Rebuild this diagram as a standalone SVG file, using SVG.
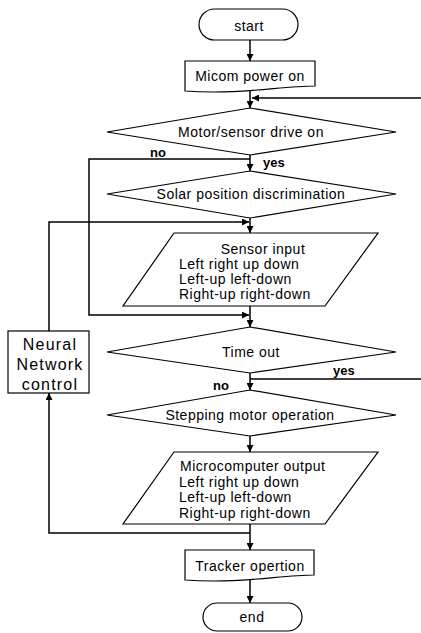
<svg xmlns="http://www.w3.org/2000/svg" width="421" height="633" viewBox="0 0 421 633">
<style>
.s{fill:#fff;stroke:#000;stroke-width:1.2}
.t{font-family:"Liberation Sans",Arial,sans-serif;font-size:14px;letter-spacing:0.5px;fill:#000}
.c{text-anchor:middle}
.lb{font-family:"Liberation Sans",Arial,sans-serif;font-size:13px;font-weight:bold;fill:#000}
.nn{font-family:"Liberation Sans",Arial,sans-serif;font-size:16px;letter-spacing:1.2px;fill:#000;text-anchor:middle}
.ln{fill:none;stroke:#000;stroke-width:1.5}
</style>
<defs>
<marker id="a" viewBox="0 0 10 10" refX="10" refY="5" markerWidth="7" markerHeight="7" markerUnits="userSpaceOnUse" orient="auto">
<path d="M0,0 L10,5 L0,10 Z" fill="#000"/>
</marker>
</defs>
<g id="connectors">
<path class="ln" d="M250,40 V61" marker-end="url(#a)"/>
<path class="ln" d="M250,91 V108" marker-end="url(#a)"/>
<path class="ln" d="M421,98 H252" marker-end="url(#a)"/>
<path class="ln" d="M250,155 V171" marker-end="url(#a)"/>
<path class="ln" d="M250,159 H89 V315 H249" marker-end="url(#a)"/>
<path class="ln" d="M250,218 V233" marker-end="url(#a)"/>
<path class="ln" d="M49,331 V222 H249" marker-end="url(#a)"/>
<path class="ln" d="M250,306 V327" marker-end="url(#a)"/>
<path class="ln" d="M250,373 V390" marker-end="url(#a)"/>
<path class="ln" d="M250,379 H421"/>
<path class="ln" d="M250,436 V452" marker-end="url(#a)"/>
<path class="ln" d="M250,524 V550" marker-end="url(#a)"/>
<path class="ln" d="M250,533 H49 V393" marker-end="url(#a)"/>
<path class="ln" d="M250,580 V603" marker-end="url(#a)"/>
<text class="lb" x="150" y="157">no</text>
<text class="lb" x="263" y="167">yes</text>
<text class="lb" x="333" y="375">yes</text>
<text class="lb" x="213" y="390">no</text>
</g>
<g id="start">
<rect class="s" x="199" y="9" width="99" height="31" rx="15.5"/>
<text class="t c" x="249" y="31">start</text>
</g>
<g id="micom">
<path class="s" d="M185,61 H315 V86 C280,86 240,95 185,91 Z"/>
<text class="t c" x="250" y="81">Micom power on</text>
</g>
<g id="drive">
<polygon class="s" points="107,132 250,108 396,132 250,155"/>
<text class="t c" x="251" y="137">Motor/sensor drive on</text>
</g>
<g id="solar">
<polygon class="s" points="107,194 250,171 396,194 250,218"/>
<text class="t c" x="251" y="199">Solar position discrimination</text>
</g>
<g id="sensor">
<polygon class="s" points="174,233 378,233 325,306 123,306"/>
<text class="t c" x="263" y="254">Sensor input</text>
<text class="t" x="179" y="269">Left right up down</text>
<text class="t" x="179" y="284">Left-up left-down</text>
<text class="t" x="179" y="299">Right-up right-down</text>
</g>
<g id="timeout">
<polygon class="s" points="107,352 250,327 396,352 250,373"/>
<text class="t c" x="251" y="357">Time out</text>
</g>
<g id="stepping">
<polygon class="s" points="107,415 250,390 396,415 250,436"/>
<text class="t c" x="250" y="420">Stepping motor operation</text>
</g>
<g id="output">
<polygon class="s" points="174,452 378,452 325,524 123,524"/>
<text class="t" x="180" y="471">Microcomputer output</text>
<text class="t" x="179" y="487">Left right up down</text>
<text class="t" x="179" y="502">Left-up left-down</text>
<text class="t" x="179" y="518">Right-up right-down</text>
</g>
<g id="neural">
<rect class="s" x="8" y="331" width="81" height="62"/>
<text class="nn" x="50" y="350">Neural</text>
<text class="nn" x="50" y="370">Network</text>
<text class="nn" x="50" y="390">control</text>
</g>
<g id="tracker">
<path class="s" d="M185,550 H314 V575 C280,575 240,584 185,580 Z"/>
<text class="t c" x="250" y="571">Tracker opertion</text>
</g>
<g id="end">
<rect class="s" x="203" y="603" width="99" height="28" rx="14"/>
<text class="t c" x="252" y="622">end</text>
</g>
</svg>
